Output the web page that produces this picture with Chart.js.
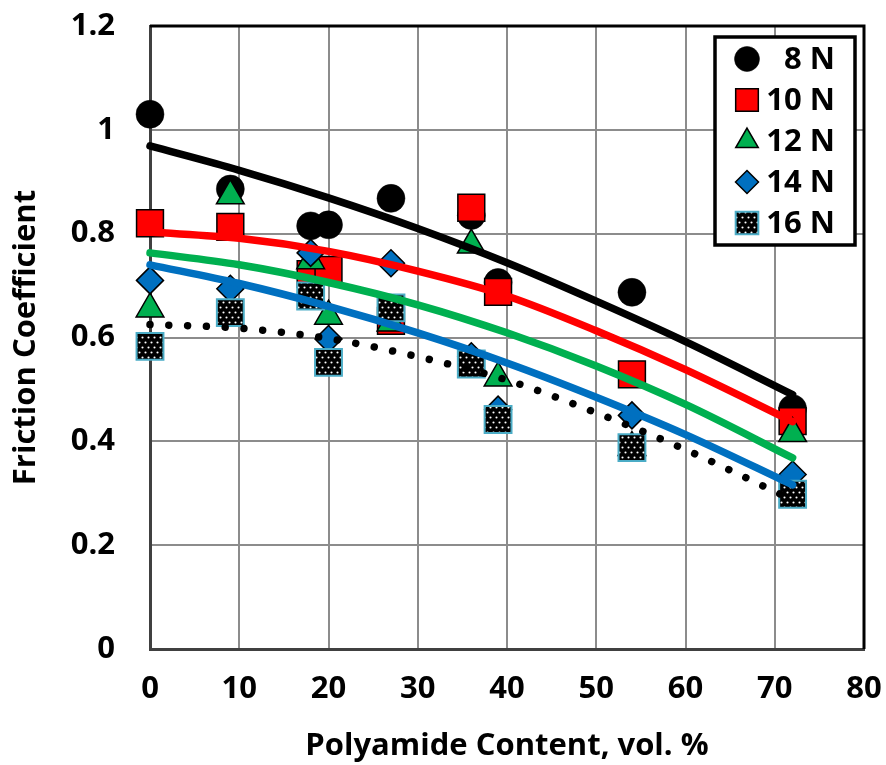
<!DOCTYPE html>
<html><head><meta charset="utf-8">
<script src="https://cdn.jsdelivr.net/npm/chart.js@4"></script>
<style>html,body{margin:0;padding:0;background:#fff;overflow:hidden}</style>
</head><body>
<canvas id="c" width="886" height="765"></canvas>
<script>
// ---- data ----
const polyamide   = [0, 9, 18, 20, 27, 36, 39, 54, 72];
const friction8N  = [1.03, 0.886, 0.815, 0.817, 0.868, 0.835, 0.706, 0.687, 0.463];
const friction10N = [0.82, 0.813, 0.722, 0.73, 0.632, 0.85, 0.688, 0.529, 0.439];
const friction12N = [0.655, 0.873, 0.748, 0.641, 0.628, 0.778, 0.522, 0.388, 0.415];
const friction14N = [0.71, 0.694, 0.763, 0.597, 0.743, 0.564, 0.461, 0.45, 0.336];
const friction16N = [0.583, 0.648, 0.68, 0.552, 0.657, 0.549, 0.442, 0.388, 0.298];

const trendX   = [0, 10, 20, 30, 40, 50, 60, 72];
const trend8N  = [0.969, 0.922, 0.869, 0.810, 0.744, 0.670, 0.592, 0.490];
const trend10N = [0.803, 0.791, 0.766, 0.728, 0.680, 0.613, 0.538, 0.438];
const trend12N = [0.763, 0.740, 0.706, 0.663, 0.609, 0.545, 0.471, 0.368];
const trend14N = [0.740, 0.704, 0.660, 0.609, 0.551, 0.485, 0.413, 0.316];
const trend16N = [0.625, 0.618, 0.598, 0.563, 0.518, 0.455, 0.384, 0.287];

const seriesLabels = ['8 N', '10 N', '12 N', '14 N', '16 N'];
const xTickValues = [0, 10, 20, 30, 40, 50, 60, 70, 80];
const yTickValues = [0, 0.2, 0.4, 0.6, 0.8, 1, 1.2];
const xTitle = 'Polyamide Content, vol. %';
const yTitle = 'Friction Coefficient';

// ---- helpers ----
const pts = (xs, ys) => xs.map((x, i) => ({x: x, y: ys[i]}));
function dotPattern() {
  const t = document.createElement('canvas');
  t.width = 6; t.height = 10;
  const g = t.getContext('2d');
  g.fillStyle = '#000'; g.fillRect(0, 0, 6, 10);
  g.fillStyle = '#fff';
  g.beginPath(); g.arc(1.5, 2.5, 1.05, 0, Math.PI * 2); g.fill();
  g.beginPath(); g.arc(4.5, 7.5, 1.05, 0, Math.PI * 2); g.fill();
  return document.getElementById('c').getContext('2d').createPattern(t, 'repeat');
}
const pattern = dotPattern();

const FONT = "'Open Sans'";
const FSIZE = 31;
const markerSets = [
  {label: seriesLabels[0], data: pts(polyamide, friction8N),  pointStyle: 'circle',   pointRadius: 14,   backgroundColor: '#000000', borderColor: '#000000', pointBorderWidth: 0.5, order: 10, legendRadius: 12.5},
  {label: seriesLabels[1], data: pts(polyamide, friction10N), pointStyle: 'rect',     pointRadius: 19,   backgroundColor: '#FF0000', borderColor: '#000000', pointBorderWidth: 1.5, order: 9, legendRadius: 16},
  {label: seriesLabels[2], data: pts(polyamide, friction12N), pointStyle: 'triangle', pointRadius: 16,   backgroundColor: '#00B050', borderColor: '#000000', pointBorderWidth: 1.5, order: 8, legendRadius: 13},
  {label: seriesLabels[3], data: pts(polyamide, friction14N), pointStyle: 'rectRot',  pointRadius: 13.5, backgroundColor: '#0070C0', borderColor: '#000000', pointBorderWidth: 1.5, order: 7, legendRadius: 11.5},
  {label: seriesLabels[4], data: pts(polyamide, friction16N), pointStyle: 'rect',     pointRadius: 19,   backgroundColor: pattern,   borderColor: '#4BACC6', pointBorderWidth: 2,   order: 6, legendRadius: 16}
].map(d => Object.assign({type: 'scatter', showLine: false, clip: false, pointHoverRadius: d.pointRadius, pointBackgroundColor: d.backgroundColor, pointBorderColor: d.borderColor}, d));

const trendSets = [
  {label: 't8',  data: pts(trendX, trend8N),  borderColor: '#000000', borderWidth: 7.5, order: 5},
  {label: 't10', data: pts(trendX, trend10N), borderColor: '#FF0000', borderWidth: 7.5, order: 4},
  {label: 't12', data: pts(trendX, trend12N), borderColor: '#00B050', borderWidth: 7.5, order: 3},
  {label: 't14', data: pts(trendX, trend14N), borderColor: '#0070C0', borderWidth: 7.5, order: 2},
  {label: 't16', data: pts(trendX, trend16N), borderColor: '#000000', borderWidth: 7.5, borderDash: [0.01, 18.8], order: 1}
].map(d => Object.assign({type: 'line', showLine: true, pointRadius: 0, fill: false, tension: 0.4, cubicInterpolationMode: 'monotone', borderCapStyle: 'round', clip: false}, d));

// frame on top and right of plot area
const framePlugin = {
  id: 'frame',
  beforeDatasetsDraw(chart) {
    const a = chart.chartArea, ctx = chart.ctx;
    ctx.save();
    ctx.strokeStyle = '#000'; ctx.lineWidth = 3;
    ctx.beginPath();
    ctx.moveTo(a.left, a.top); ctx.lineTo(a.right, a.top); ctx.lineTo(a.right, a.bottom);
    ctx.stroke();
    ctx.restore();
  }
};

function drawMarker(ctx, style, r, x, y) {
  if (Chart.helpers && Chart.helpers.drawPoint) {
    Chart.helpers.drawPoint(ctx, {pointStyle: style, radius: r, rotation: 0, borderWidth: ctx.lineWidth}, x, y);
    return;
  }
  ctx.beginPath();
  if (style === 'circle') ctx.arc(x, y, r, 0, Math.PI * 2);
  else if (style === 'rect') { const s = Math.SQRT1_2 * r; ctx.rect(x - s, y - s, 2 * s, 2 * s); }
  else if (style === 'rectRot') { ctx.moveTo(x - r, y); ctx.lineTo(x, y - r); ctx.lineTo(x + r, y); ctx.lineTo(x, y + r); ctx.closePath(); }
  else if (style === 'triangle') { ctx.moveTo(x, y - r); ctx.lineTo(x + r * 0.866, y + r / 2); ctx.lineTo(x - r * 0.866, y + r / 2); ctx.closePath(); }
  ctx.fill(); if (ctx.lineWidth > 0) ctx.stroke();
}

const legendPlugin = {
  id: 'boxLegend',
  afterDatasetsDraw(chart) {
    const a = chart.chartArea, ctx = chart.ctx;
    const r = a.right - 9, t = a.top + 11, w = 140, rowH = 41;
    const h = 22 + rowH * (markerSets.length - 1) + 22;
    const l = r - w;
    ctx.save();
    ctx.fillStyle = '#fff';
    ctx.fillRect(l, t, w, h);
    ctx.strokeStyle = '#000'; ctx.lineWidth = 3.5;
    ctx.strokeRect(l, t, w, h);
    markerSets.forEach((d, i) => {
      const y = t + 22 + i * rowH;
      ctx.fillStyle = d.backgroundColor;
      ctx.strokeStyle = d.borderColor;
      ctx.lineWidth = d.pointBorderWidth;
      drawMarker(ctx, d.pointStyle, d.legendRadius, l + 32, y);
      ctx.fillStyle = '#000';
      ctx.font = 'bold ' + FSIZE + 'px ' + FONT;
      ctx.textAlign = 'right';
      ctx.textBaseline = 'middle';
      ctx.fillText(d.label, r - 20, y + 1);
    });
    ctx.restore();
  }
};

new Chart(document.getElementById('c'), {
  type: 'scatter',
  data: {datasets: [...markerSets, ...trendSets]},
  plugins: [framePlugin, legendPlugin],
  options: {
    responsive: false,
    animation: false,
    events: [],
    devicePixelRatio: 1,
    layout: {padding: {top: 26, right: 22, left: 0, bottom: 0}},
    plugins: {legend: {display: false}, tooltip: {enabled: false}},
    scales: {
      x: {
        type: 'linear', min: xTickValues[0], max: xTickValues[xTickValues.length - 1],
        afterBuildTicks: s => { s.ticks = xTickValues.map(v => ({value: v})); },
        afterFit: s => { s.height = 116; s.paddingLeft = 0; s.paddingRight = 0; },
        grid: {color: '#8c8c8c', lineWidth: 2, drawTicks: false},
        border: {color: '#404040', width: 3},
        ticks: {color: '#000', font: {family: FONT, size: FSIZE, weight: 'bold'}, padding: 22, maxRotation: 0, callback: v => String(v)},
        title: {display: true, text: xTitle, color: '#000', font: {family: FONT, size: FSIZE, weight: 'bold'}, padding: {top: 0, bottom: 0}}
      },
      y: {
        type: 'linear', min: yTickValues[0], max: yTickValues[yTickValues.length - 1],
        afterBuildTicks: s => { s.ticks = yTickValues.map(v => ({value: v})); },
        afterFit: s => { s.width = 150; s.paddingTop = 0; s.paddingBottom = 0; },
        grid: {color: '#8c8c8c', lineWidth: 2, drawTicks: false},
        border: {color: '#404040', width: 3},
        ticks: {color: '#000', font: {family: FONT, size: FSIZE, weight: 'bold'}, padding: 35, callback: v => String(+v.toFixed(1))},
        title: {display: true, text: yTitle, color: '#000', font: {family: FONT, size: FSIZE, weight: 'bold'}, padding: {top: 8, bottom: 0}}
      }
    }
  }
});
</script>
</body></html>
